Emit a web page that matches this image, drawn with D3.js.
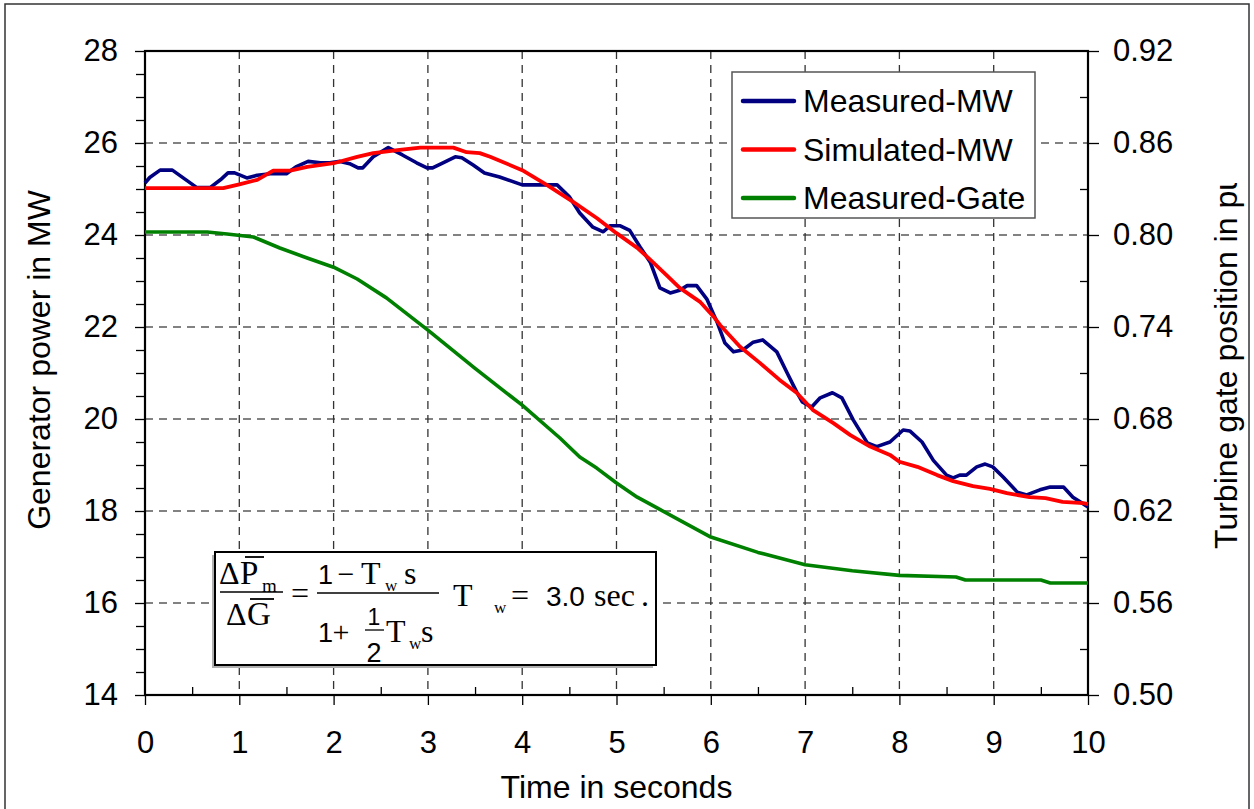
<!DOCTYPE html>
<html>
<head>
<meta charset="utf-8">
<script src="https://cdn.jsdelivr.net/npm/d3@7"></script>
<style>
  html, body { margin: 0; padding: 0; background: #fff; }
  svg { display: block; }
  text { font-family: "Liberation Sans", Arial, sans-serif; fill: #000; }
  .serif { font-family: "Liberation Serif", "Times New Roman", serif; }
</style>
</head>
<body>
<svg id="chart" width="1254" height="809"></svg>
<script>
// ---- data ----------------------------------------------------------------
const measuredT = [0, 0.05, 0.16, 0.29, 0.42, 0.55, 0.69, 0.8, 0.88, 0.95, 1.08, 1.19, 1.33, 1.5, 1.6, 1.73, 1.86, 1.96,
  2.07, 2.17, 2.26, 2.31, 2.42, 2.58, 2.73, 2.88, 2.99, 3.05, 3.16, 3.29, 3.36, 3.48, 3.6, 3.76, 4.0, 4.37, 4.5, 4.61,
  4.75, 4.86, 4.93, 5.04, 5.14, 5.25, 5.36, 5.46, 5.57, 5.67, 5.75, 5.85, 5.96, 6.07, 6.15, 6.24, 6.34, 6.45, 6.55,
  6.7, 6.81, 6.91, 6.97, 7.07, 7.16, 7.29, 7.39, 7.51, 7.66, 7.76, 7.9, 8.04, 8.11, 8.24, 8.36, 8.5, 8.57, 8.64, 8.71,
  8.82, 8.91, 8.99, 9.1, 9.25, 9.35, 9.49, 9.6, 9.74, 9.84, 10.0];
const measuredMW = [25.13, 25.25, 25.41, 25.41, 25.22, 25.03, 25.03, 25.2, 25.35, 25.35, 25.24, 25.3, 25.33, 25.33,
  25.48, 25.6, 25.57, 25.57, 25.6, 25.55, 25.46, 25.46, 25.7, 25.9, 25.74, 25.57, 25.46, 25.46, 25.57, 25.7, 25.68,
  25.52, 25.35, 25.26, 25.09, 25.09, 24.83, 24.48, 24.17, 24.07, 24.2, 24.2, 24.1, 23.74, 23.4, 22.85, 22.74, 22.8,
  22.9, 22.9, 22.6, 22.09, 21.65, 21.46, 21.5, 21.67, 21.72, 21.46, 21.0, 20.59, 20.37, 20.26, 20.46, 20.57, 20.46,
  19.98, 19.48, 19.4, 19.5, 19.76, 19.74, 19.5, 19.1, 18.78, 18.72, 18.78, 18.78, 18.96, 19.02, 18.96, 18.74, 18.41,
  18.35, 18.46, 18.52, 18.52, 18.3, 18.09];

const simulatedT = [0, 0.83, 1.0, 1.19, 1.36, 1.54, 1.72, 2.0, 2.25, 2.42, 2.7, 2.92, 3.27, 3.41, 3.55, 3.66, 4.0, 4.26,
  4.54, 4.79, 5.0, 5.22, 5.36, 5.53, 5.67, 5.89, 6.04, 6.1, 6.31, 6.52, 6.73, 6.91, 7.08, 7.3, 7.48, 7.69, 7.9, 8.0,
  8.19, 8.4, 8.57, 8.78, 8.96, 9.14, 9.38, 9.55, 9.73, 9.95, 10.0];
const simulatedMW = [25.02, 25.02, 25.1, 25.2, 25.4, 25.4, 25.48, 25.56, 25.7, 25.78, 25.85, 25.9, 25.9, 25.8, 25.78,
  25.7, 25.41, 25.09, 24.72, 24.37, 24.04, 23.72, 23.46, 23.13, 22.85, 22.54, 22.2, 22.04, 21.57, 21.22, 20.85, 20.57,
  20.2, 19.91, 19.65, 19.4, 19.22, 19.07, 18.96, 18.78, 18.65, 18.54, 18.48, 18.39, 18.3, 18.28, 18.2, 18.17, 18.15];

const gateT = [0, 0.66, 0.87, 1.15, 1.43, 1.72, 2.0, 2.25, 2.56, 3.0, 3.5, 4.0, 4.4, 4.61, 4.79, 5.0, 5.22, 5.43, 6.0,
  6.5, 7.0, 7.5, 8.0, 8.6, 8.7, 9.5, 9.6, 10.0];
const gatePU = [0.802, 0.802, 0.8007, 0.7987, 0.7915, 0.785, 0.779, 0.7713, 0.759, 0.738, 0.713, 0.689, 0.6676, 0.6552,
  0.648, 0.6383, 0.629, 0.622, 0.603, 0.593, 0.585, 0.581, 0.578, 0.577, 0.575, 0.575, 0.573, 0.573];

const timeTicks = [0, 1, 2, 3, 4, 5, 6, 7, 8, 9, 10];
const mwTicks = [14, 16, 18, 20, 22, 24, 26, 28];
const gateTicks = [0.50, 0.56, 0.62, 0.68, 0.74, 0.80, 0.86, 0.92];

const seriesNames = ["Measured-MW", "Simulated-MW", "Measured-Gate"];
const seriesColors = ["#000080", "#ff0000", "#008000"];

// ---- layout ----------------------------------------------------------------
const svg = d3.select("#chart");
const L = 145, R = 1088, T = 51, B = 695;

const x = d3.scaleLinear().domain([0, 10]).range([L, R]);
const y = d3.scaleLinear().domain([14, 28]).range([B, T]);
const y2 = d3.scaleLinear().domain([0.50, 0.92]).range([B, T]);

// outer frame
svg.append("rect").attr("x", 5).attr("y", 4).attr("width", 1244).attr("height", 812)
  .attr("fill", "none").attr("stroke", "#333").attr("stroke-width", 1.5);

// dashed grid
const grid = svg.append("g").attr("stroke-width", 1.3).attr("stroke-dasharray", "8,6");
grid.selectAll("line.h").data(mwTicks.filter(v => v > 14 && v < 28)).join("line")
  .attr("class", "h").attr("stroke", "#5a5a5a")
  .attr("x1", L).attr("x2", R).attr("y1", d => y(d)).attr("y2", d => y(d));
grid.selectAll("line.v").data(timeTicks.filter(v => v > 0 && v < 10)).join("line")
  .attr("class", "v").attr("stroke", "#333")
  .attr("y1", T).attr("y2", B).attr("x1", d => x(d)).attr("x2", d => x(d));

// minor ticks
const minorMW = d3.range(14, 28.01, 0.5).filter(v => !mwTicks.includes(v));
const minorGate = [0.53, 0.59, 0.65, 0.71, 0.77, 0.83, 0.89];
const minorTime = d3.range(0.5, 10, 1);

function styleAxis(g) {
  g.select(".domain").remove();
  g.selectAll(".tick line").attr("stroke", "#000").attr("stroke-width", 1.3);
  g.selectAll(".tick text").style("font-size", "31px").style("font-family", "'Liberation Sans', Arial, sans-serif");
}

svg.append("g").attr("transform", `translate(${L},0)`)
  .call(d3.axisLeft(y).tickValues(minorMW).tickSize(9).tickFormat(""))
  .call(styleAxis);
svg.append("g").attr("transform", `translate(${R},0)`)
  .call(d3.axisRight(y2).tickValues(minorGate).tickSize(-8).tickFormat(""))
  .call(styleAxis);
svg.append("g").attr("transform", `translate(0,${B})`)
  .call(d3.axisBottom(x).tickValues(minorTime).tickSize(-8).tickFormat(""))
  .call(styleAxis);

// major axes
svg.append("g").attr("transform", `translate(${L},0)`)
  .call(d3.axisLeft(y).tickValues(mwTicks).tickSize(10).tickPadding(17).tickFormat(d3.format("d")))
  .call(styleAxis);
svg.append("g").attr("transform", `translate(${R},0)`)
  .call(d3.axisRight(y2).tickValues(gateTicks).tickSize(11).tickPadding(14).tickFormat(d3.format(".2f")))
  .call(styleAxis);
svg.append("g").attr("transform", `translate(0,${B})`)
  .call(d3.axisBottom(x).tickValues(timeTicks).tickSize(10).tickPadding(26).tickFormat(d3.format("d")))
  .call(styleAxis);

// plot border
svg.append("rect").attr("x", L).attr("y", T).attr("width", R - L).attr("height", B - T)
  .attr("fill", "none").attr("stroke", "#000").attr("stroke-width", 2.2);

// series
const lineMW = d3.line().x(d => x(d[0])).y(d => y(d[1]));
const lineGate = d3.line().x(d => x(d[0])).y(d => y2(d[1]));

svg.append("path").datum(gateT.map((t, i) => [t, gatePU[i]]))
  .attr("d", lineGate).attr("fill", "none").attr("stroke", seriesColors[2]).attr("stroke-width", 3.6)
  .attr("stroke-linejoin", "round");
svg.append("path").datum(measuredT.map((t, i) => [t, measuredMW[i]]))
  .attr("d", lineMW).attr("fill", "none").attr("stroke", seriesColors[0]).attr("stroke-width", 3.6)
  .attr("stroke-linejoin", "round");
svg.append("path").datum(simulatedT.map((t, i) => [t, simulatedMW[i]]))
  .attr("d", lineMW).attr("fill", "none").attr("stroke", seriesColors[1]).attr("stroke-width", 3.8)
  .attr("stroke-linejoin", "round");

// axis titles
svg.append("text").attr("transform", `translate(50,${(T + B) / 2 - 13}) rotate(-90)`)
  .attr("text-anchor", "middle").style("font-size", "32px").text("Generator power in MW");
svg.append("text").attr("x", (L + R) / 2).attr("y", 798)
  .attr("text-anchor", "middle").style("font-size", "32px").text("Time in seconds");

// right title is cut off at the top edge of its box
svg.append("clipPath").attr("id", "rtClip")
  .append("rect").attr("x", 1150).attr("y", 183).attr("width", 104).attr("height", 600);
svg.append("g").attr("clip-path", "url(#rtClip)")
  .append("text").attr("transform", "translate(1237,361) rotate(-90)")
  .attr("text-anchor", "middle").style("font-size", "32px").text("Turbine gate position in pu");

// legend
const lg = svg.append("g");
lg.append("rect").attr("x", 732).attr("y", 72).attr("width", 303).attr("height", 146)
  .attr("fill", "#fff").attr("stroke", "#555").attr("stroke-width", 1.5);
seriesNames.forEach((name, i) => {
  const yy = 101 + i * 48.5;
  lg.append("line").attr("x1", 743).attr("x2", 794).attr("y1", yy).attr("y2", yy)
    .attr("stroke", seriesColors[i]).attr("stroke-width", 4.5).attr("stroke-linecap", "round");
  lg.append("text").attr("x", 803).attr("y", yy + 11).style("font-size", "32px").text(name);
});

// transfer-function note
const fb = svg.append("g");
fb.append("rect").attr("x", 212).attr("y", 555).attr("width", 441).attr("height", 113).attr("fill", "#b0b0b0");
fb.append("rect").attr("x", 215).attr("y", 552).attr("width", 441).attr("height", 113)
  .attr("fill", "#fff").attr("stroke", "#000").attr("stroke-width", 2);

function t(txt, px, py, size, serif, anchor) {
  fb.append("text").attr("x", px).attr("y", py).attr("class", serif ? "serif" : null)
    .attr("text-anchor", anchor || "start").style("font-size", size + "px").text(txt);
}
function hl(x1, x2, yy, w) {
  fb.append("line").attr("x1", x1).attr("x2", x2).attr("y1", yy).attr("y2", yy)
    .attr("stroke", "#000").attr("stroke-width", w || 1.3);
}
// left fraction  ΔP̄m / ΔḠ
t("Δ", 219, 584, 32, true);
t("P", 240, 584, 33, true);
hl(245, 264, 557, 1.8);
t("m", 262, 592, 19, true);
hl(220, 283, 592);
t("Δ", 226, 625, 32, true);
t("G", 247, 625, 33, true);
hl(250, 274, 599, 1.8);
t("=", 300, 604, 32, true, "middle");
// right fraction (1 − Tw s) / (1 + ½ Tw s)
t("1", 318, 584, 27, false);
t("−", 346, 584, 30, true, "middle");
t("T", 361, 584, 32, true);
t("w", 385, 591, 17, true);
t("s", 404, 584, 32, true);
hl(317, 439, 593);
t("1", 318, 642, 27, false);
t("+", 341, 642, 30, true, "middle");
t("1", 374, 625, 23, false, "middle");
hl(365, 384, 630);
t("2", 374, 662, 27, false, "middle");
t("T", 386, 642, 32, true);
t("w", 409, 649, 17, true);
t("s", 421, 642, 32, true);
// time constant
t("T", 453, 606, 32, true);
t("w", 494, 613, 17, true);
t("=", 520, 606, 32, true, "middle");
t("3.0", 546, 606, 28, false);
t("sec", 594, 606, 32, true);
t(".", 641, 606, 32, true);
</script>
</body>
</html>
